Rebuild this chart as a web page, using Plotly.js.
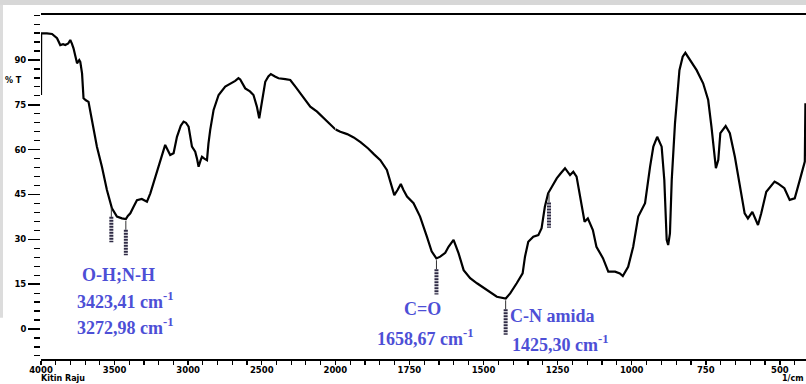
<!DOCTYPE html>
<html>
<head>
<meta charset="utf-8">
<script src="https://cdn.plot.ly/plotly-3.0.1.min.js"></script>
<style>
  html, body { margin: 0; padding: 0; background: #ffffff; }
  #chart { width: 806px; height: 384px; }
</style>
</head>
<body>
<div id="chart"></div>
<script>
// FTIR spectrum of chitin (wavenumber in 1/cm, transmittance in %T)
const wavenumber = [
  4000, 3999, 3960, 3925, 3891, 3869, 3850, 3835, 3815, 3801, 3790, 3779, 3765, 3755, 3740, 3733,
  3721, 3711, 3695, 3677, 3654, 3620, 3586, 3552, 3518, 3484, 3450, 3423, 3410, 3393, 3370, 3348,
  3315, 3290, 3280, 3257, 3223, 3190, 3156, 3140, 3122, 3099, 3076, 3050, 3031, 3015, 2997, 2974,
  2952, 2940, 2929, 2915, 2906, 2890, 2872, 2862, 2850, 2827, 2793, 2748, 2714, 2680, 2658, 2646,
  2612, 2580, 2556, 2540, 2533, 2517, 2508, 2499, 2476, 2455, 2438, 2410, 2386, 2340, 2306, 2270,
  2238, 2200, 2170, 2124, 2090, 2056, 2020, 2000,
  1983, 1960, 1938, 1915, 1889, 1870, 1848, 1826, 1815, 1801, 1790, 1779, 1770, 1758, 1736, 1714,
  1691, 1675, 1659, 1646, 1629, 1618, 1601, 1584, 1567, 1545, 1522, 1489, 1455, 1425, 1410, 1388,
  1368, 1360, 1349, 1332, 1315, 1304, 1293, 1282, 1270, 1253, 1240, 1225, 1208, 1197, 1186, 1175,
  1159, 1148, 1131, 1119, 1097, 1079, 1056, 1040, 1030, 1012, 995, 978, 972, 955, 938, 927,
  914, 899, 890, 882, 877, 871, 865, 854, 839, 828, 819, 804, 781, 759, 742, 731,
  723, 716, 708, 701, 683, 669, 652, 636, 619, 608, 600, 593, 574, 563, 546, 518,
  507, 485, 467, 450, 433, 416, 414
];
const transmittance = [
  78.3, 98.9, 98.9, 98.7, 97.3, 95.0, 95.3, 95.0, 95.5, 96.7, 95.5, 93.9, 91.0, 88.9, 90.0, 89.4,
  85.5, 77.2, 76.5, 76.0, 69.9, 61.0, 54.3, 46.5, 40.4, 37.6, 37.0, 36.8, 37.8, 38.7, 41.0, 43.1,
  43.5, 43.0, 42.6, 45.4, 51.0, 56.5, 61.6, 60.0, 58.2, 58.8, 64.3, 68.0, 69.4, 69.0, 67.7, 61.0,
  59.3, 57.0, 54.3, 56.5, 57.6, 57.0, 56.5, 62.0, 66.6, 73.3, 78.3, 81.1, 82.0, 83.0, 83.9, 83.5,
  80.5, 79.5, 78.3, 76.0, 74.4, 70.5, 73.0, 76.6, 82.7, 84.5, 85.3, 84.5, 83.9, 83.6, 83.3, 81.0,
  78.9, 76.5, 74.4, 72.7, 71.0, 69.4, 67.5, 66.8,
  66.0, 65.2, 64.1, 62.5, 60.4, 58.5, 56.5, 53.2, 49.8, 44.8, 46.5, 48.5, 46.5, 44.3, 42.1, 37.6,
  30.9, 26.0, 23.6, 24.2, 25.5, 27.5, 29.8, 25.3, 19.7, 17.0, 15.3, 13.0, 10.8, 10.2, 11.9, 15.3,
  18.6, 24.2, 29.2, 30.9, 31.4, 33.7, 40.9, 45.4, 47.6, 50.4, 52.0, 53.8, 51.5, 52.6, 51.0, 44.3,
  35.9, 37.0, 33.1, 27.5, 23.7, 19.2, 19.2, 18.6, 17.7, 20.8, 27.5, 37.6, 38.7, 42.1, 54.3, 61.0,
  64.3, 61.0, 49.8, 29.8, 28.1, 32.0, 49.8, 68.8, 86.6, 91.1, 92.4, 90.0, 86.6, 82.2, 76.6, 67.7,
  59.9, 53.8, 56.5, 65.5, 67.9, 65.5, 57.6, 48.7, 38.7, 37.0, 38.0, 39.2, 34.8, 38.7, 45.9, 49.3,
  48.7, 47.1, 43.2, 43.7, 49.8, 56.0, 75.5
];

// peak pointer positions (1/cm)
const peakWn = [3522, 3423.41, 1658.67, 1425.30, 1279];

// axis ticks
const xTicksHigh = [4000, 3500, 3000, 2500, 2000];
const xTicksLow = [1750, 1500, 1250, 1000, 750, 500];
const yTicks = [0, 15, 30, 45, 60, 75, 90];

// band assignment labels
const bandNames = ['O-H;N-H', 'C=O', 'C-N amida'];
const bandValues = ['3423,41', '3272,98', '1658,67', '1425,30'];

const BREAK = 2000;          // scale doubles below this wavenumber
const splitFrac = 0.3847;    // share of the plot width for 4000-2000

function curveAt(w) {
  for (let i = 0; i < wavenumber.length - 1; i++) {
    const a = wavenumber[i], b = wavenumber[i + 1];
    if ((w <= a && w >= b) && a !== b) {
      const t = (a - w) / (a - b);
      return transmittance[i] + t * (transmittance[i + 1] - transmittance[i]);
    }
  }
  return null;
}

const hiX = [], hiY = [], loX = [], loY = [];
wavenumber.forEach((w, i) => {
  if (w >= BREAK) { hiX.push(w); hiY.push(transmittance[i]); }
  if (w <= BREAK) { loX.push(w); loY.push(transmittance[i]); }
});

const spectrumLine = { color: '#000000', width: 2.2 };
const traces = [
  { x: hiX, y: hiY, xaxis: 'x', yaxis: 'y', type: 'scatter', mode: 'lines',
    line: spectrumLine, hoverinfo: 'skip' },
  { x: loX, y: loY, xaxis: 'x2', yaxis: 'y', type: 'scatter', mode: 'lines',
    line: spectrumLine, hoverinfo: 'skip' }
];

// pointer marks under the labelled peaks
const pointer = { hi: { x: [], y: [], cx: [], cy: [] }, lo: { x: [], y: [], cx: [], cy: [] } };
peakWn.forEach(w => {
  const c = curveAt(w);
  const top = c - 3.6, bottom = top - 8.5;
  const g = w >= BREAK ? pointer.hi : pointer.lo;
  g.x.push(w, w, null); g.y.push(top, bottom, null);
  g.cx.push(w, w, null); g.cy.push(c - 0.6, top, null);
});
[['hi', 'x'], ['lo', 'x2']].forEach(([k, ax]) => {
  traces.push({ x: pointer[k].cx, y: pointer[k].cy, xaxis: ax, yaxis: 'y', type: 'scatter',
    mode: 'lines', line: { color: '#333333', width: 1 }, hoverinfo: 'skip' });
  traces.push({ x: pointer[k].x, y: pointer[k].y, xaxis: ax, yaxis: 'y', type: 'scatter',
    mode: 'lines', line: { color: '#2e2a44', width: 4, dash: '2px,1px' }, hoverinfo: 'skip' });
});

const tickFont = { family: 'DejaVu Sans', size: 8.5, color: '#000000', weight: 'bold' };
const smallFont = { family: 'DejaVu Sans', size: 8, color: '#000000', weight: 'bold' };
const xCommon = {
  anchor: 'y', showgrid: false, zeroline: false,
  showline: true, linecolor: '#000000', linewidth: 2, mirror: true,
  ticks: 'outside', ticklen: 4, tickwidth: 1.5, tickcolor: '#000000',
  ticklabelstandoff: -2,
  tickfont: tickFont, tickmode: 'array'
};

const labelFont = { family: 'Liberation Serif', size: 18, color: '#4d4fd6', weight: 'bold' };
const cm = ' cm<sup>-1</sup>';
const annotations = [
  { xref: 'x', yref: 'y', x: 3475, y: 18.1, text: bandNames[0] },
  { xref: 'x', yref: 'y', x: 3427, y: 9.7, text: bandValues[0] + cm },
  { xref: 'x', yref: 'y', x: 3427, y: 0.7, text: bandValues[1] + cm },
  { xref: 'x2', yref: 'y', x: 1705, y: 6.7, text: bandNames[1] },
  { xref: 'x2', yref: 'y', x: 1699, y: -2.7, text: bandValues[2] + cm },
  { xref: 'x2', yref: 'y', x: 1267, y: 4.3, text: bandNames[2] },
  { xref: 'x2', yref: 'y', x: 1243, y: -4.7, text: bandValues[3] + cm }
].map(a => Object.assign({ showarrow: false, font: labelFont, xanchor: 'center', yanchor: 'middle' }, a));

annotations.push(
  { xref: 'paper', yref: 'paper', x: -0.0353, y: 0.811, text: '% T', showarrow: false,
    font: smallFont, xanchor: 'center', yanchor: 'middle' },
  { xref: 'paper', yref: 'paper', x: -0.002, y: -0.057, text: 'Kitin Raju', showarrow: false,
    font: smallFont, xanchor: 'left', yanchor: 'middle' },
  { xref: 'paper', yref: 'paper', x: 1.0, y: -0.056, text: '1/cm', showarrow: false,
    font: smallFont, xanchor: 'right', yanchor: 'middle' }
);

const layout = {
  width: 806, height: 384,
  margin: { l: 41, r: 0, t: 15, b: 25, pad: 0 },
  paper_bgcolor: '#ffffff', plot_bgcolor: '#ffffff',
  showlegend: false,
  xaxis: Object.assign({}, xCommon, {
    domain: [0, splitFrac], range: [4000, BREAK],
    tickvals: xTicksHigh, ticktext: xTicksHigh.map(String),
    minor: { tickmode: 'linear', tick0: 0, dtick: 100, ticks: 'outside', ticklen: 4,
             tickwidth: 1.2, tickcolor: '#000000' }
  }),
  xaxis2: Object.assign({}, xCommon, {
    domain: [splitFrac, 1], range: [BREAK, 412],
    tickvals: xTicksLow, ticktext: xTicksLow.map(String),
    minor: { tickmode: 'linear', tick0: 0, dtick: 50, ticks: 'outside', ticklen: 4,
             tickwidth: 1.2, tickcolor: '#000000' }
  }),
  yaxis: {
    anchor: 'x', range: [-10.04, 105.05], showgrid: false, zeroline: false, showline: false,
    tickmode: 'array', tickvals: yTicks, ticktext: yTicks.map(String),
    ticks: 'outside', ticklen: 12, tickwidth: 1.5, tickcolor: '#000000', tickfont: tickFont,
    minor: { tickmode: 'linear', tick0: 0, dtick: 3, ticks: 'outside', ticklen: 6,
             tickwidth: 1.2, tickcolor: '#000000' }
  },
  annotations: annotations,
  shapes: [
    { type: 'rect', xref: 'paper', yref: 'paper', x0: -0.06, x1: 1.01, y0: 1.029, y1: 1.05,
      fillcolor: '#d7d7d7', line: { width: 0 }, layer: 'below' },
    { type: 'rect', xref: 'paper', yref: 'paper', x0: -0.06, x1: -0.0497, y0: 0.12, y1: 1.03,
      fillcolor: '#dcdcdc', line: { width: 0 }, layer: 'below' }
  ]
};

Plotly.newPlot('chart', traces, layout, { staticPlot: true, displayModeBar: false });
</script>
</body>
</html>
